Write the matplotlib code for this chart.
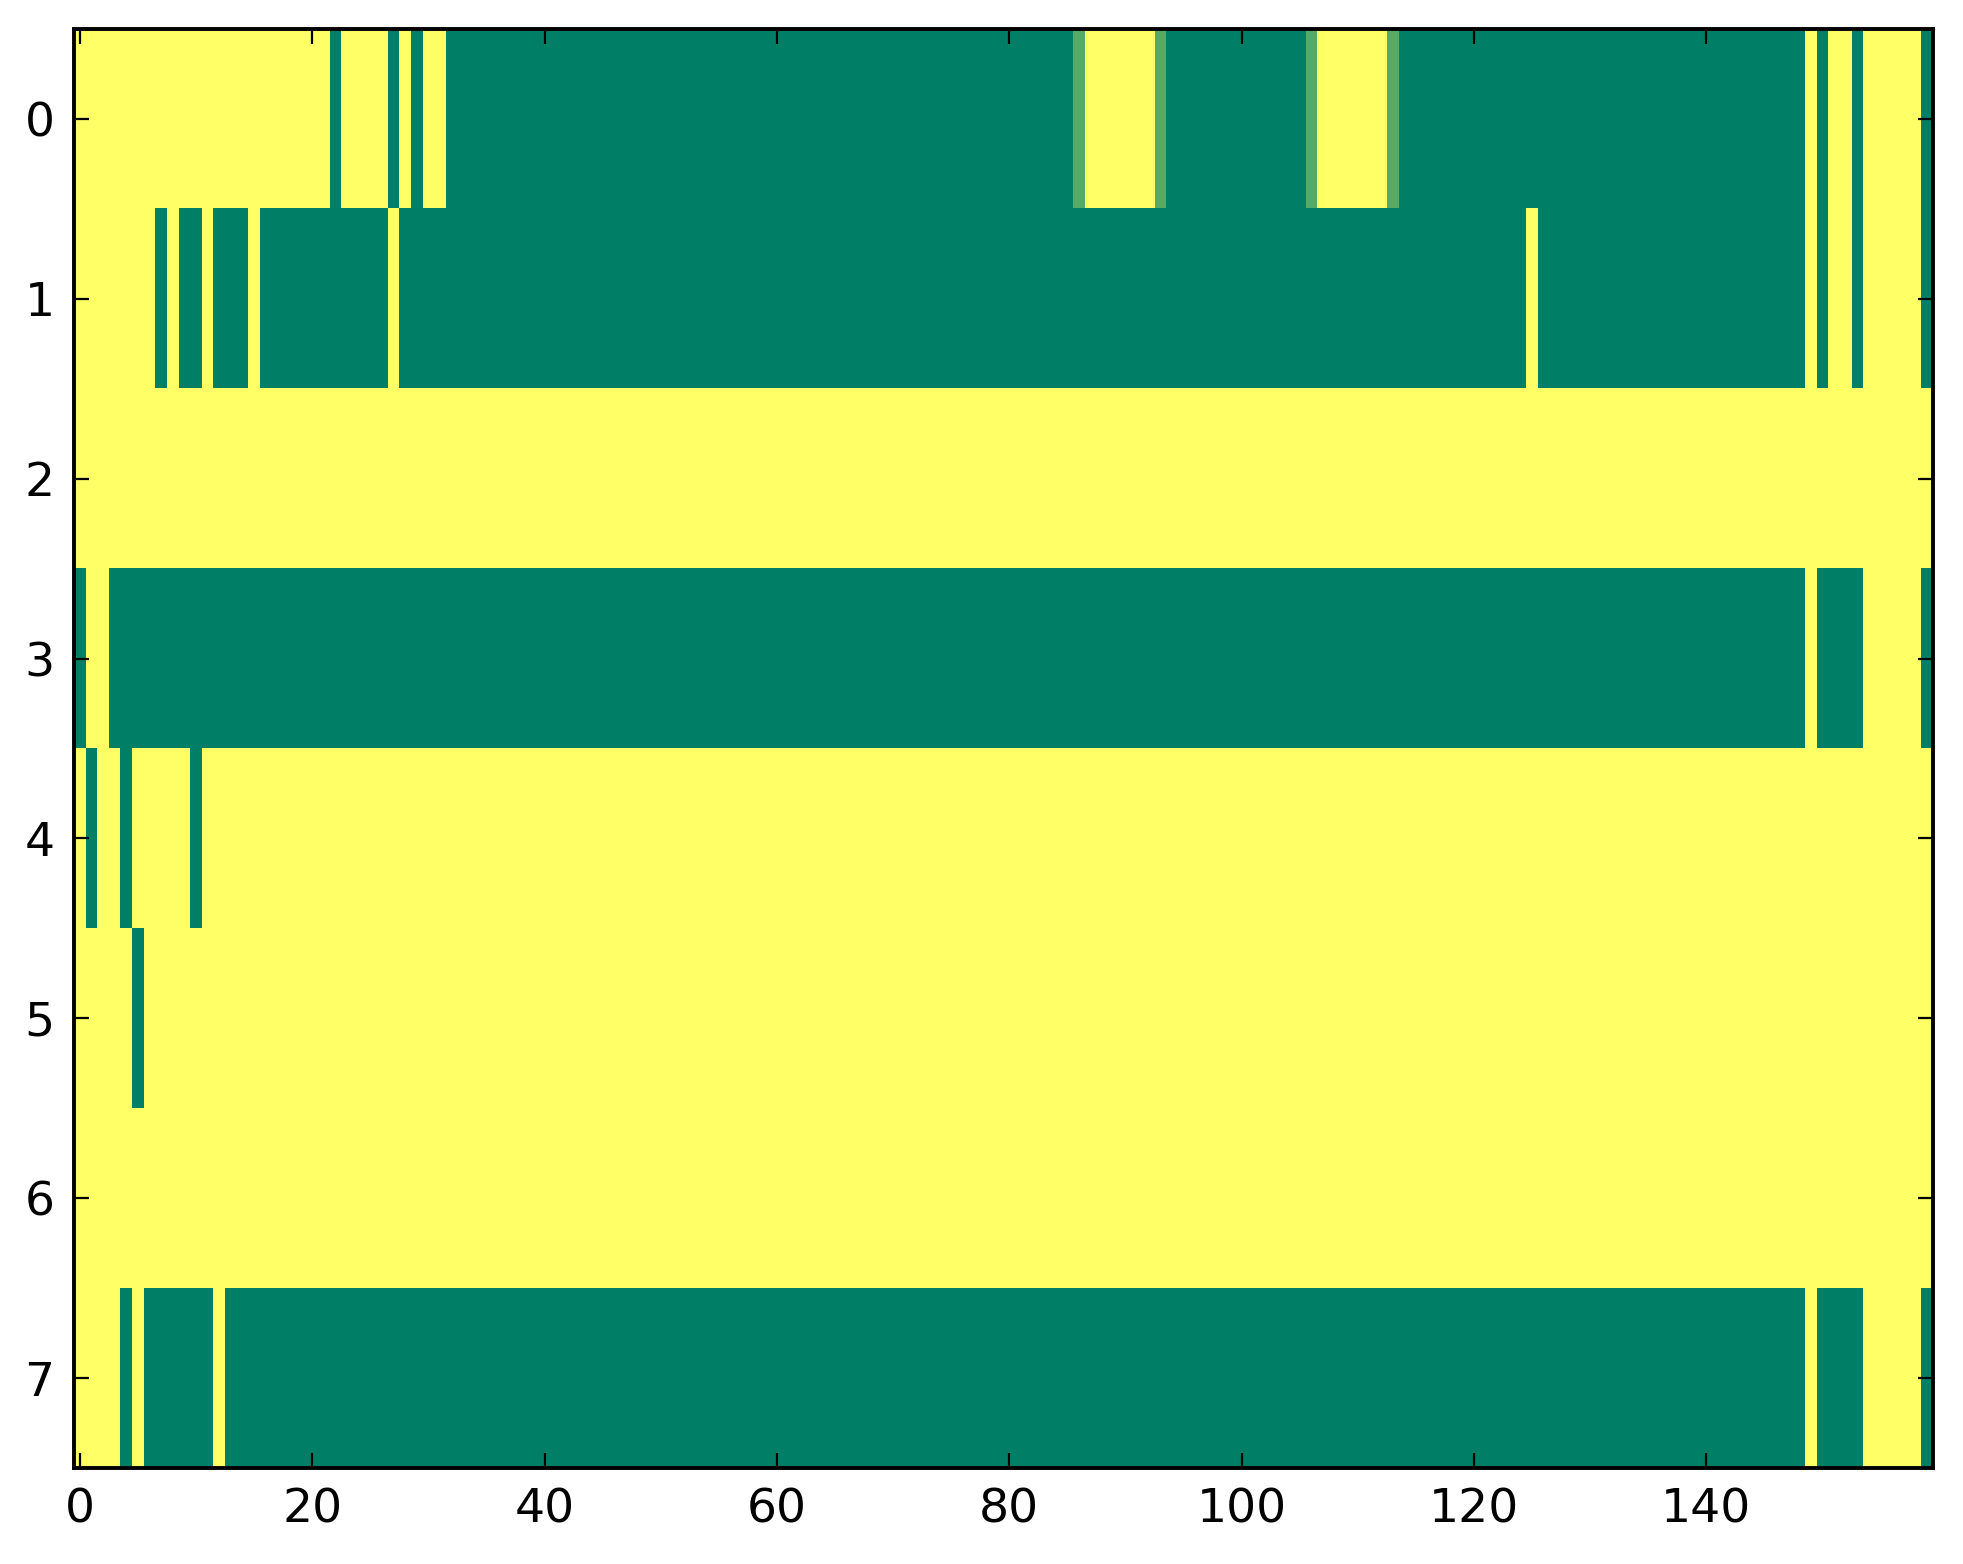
import numpy as np
import matplotlib
matplotlib.use("Agg")
import matplotlib.pyplot as plt

# each row as runs of (value, count); 1 = yellow, 0 = green, 1/3 = mid
m = 1.0 / 3
row0 = [(1, 22), (0, 1), (1, 4), (0, 1), (1, 1), (0, 1), (1, 2), (0, 54), (m, 1), (1, 6), (m, 1),
        (0, 12), (m, 1), (1, 6), (m, 1), (0, 35), (1, 1), (0, 1), (1, 2), (0, 1), (1, 5), (0, 1)]
row1 = [(1, 7), (0, 1), (1, 1), (0, 2), (1, 1), (0, 3), (1, 1), (0, 11), (1, 1), (0, 97), (1, 1),
        (0, 23), (1, 1), (0, 1), (1, 2), (0, 1), (1, 5), (0, 1)]
row2 = [(1, 160)]
row3 = [(0, 1), (1, 2), (0, 146), (1, 1), (0, 4), (1, 5), (0, 1)]
row4 = [(1, 1), (0, 1), (1, 2), (0, 1), (1, 5), (0, 1), (1, 149)]
row5 = [(1, 5), (0, 1), (1, 154)]
row6 = [(1, 160)]
row7 = [(1, 4), (0, 1), (1, 1), (0, 6), (1, 1), (0, 136), (1, 1), (0, 4), (1, 5), (0, 1)]

rows = [row0, row1, row2, row3, row4, row5, row6, row7]
grid = np.array([[v for v, n in r for _ in range(n)] for r in rows], dtype=float)

fig = plt.figure(figsize=(1963 / 200, 1564 / 200), dpi=200)
ax = fig.add_axes([0.0377, 0.0614, 0.9470, 0.9201])
ax.imshow(grid, cmap="summer", vmin=0, vmax=1, interpolation="nearest", aspect="auto")

ax.set_xticks(np.arange(0, 141, 20))
ax.set_yticks(np.arange(0, 8))
ax.tick_params(direction="in", top=True, right=True, length=5.4, width=0.8,
               labelsize=17, pad=7)
for s in ax.spines.values():
    s.set_linewidth(1.4)

fig.savefig("out.png", dpi=200)
